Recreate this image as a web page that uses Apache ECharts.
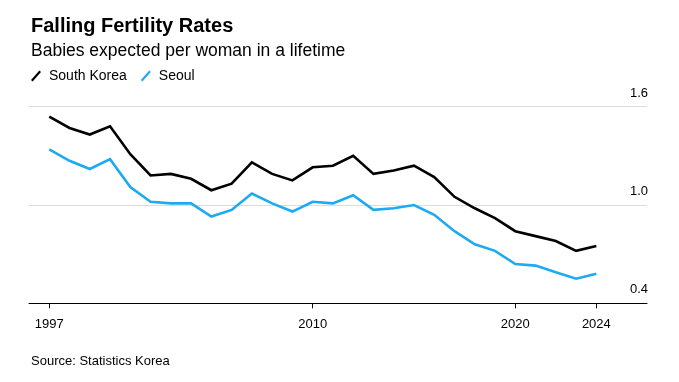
<!DOCTYPE html>
<html>
<head>
<meta charset="utf-8">
<style>
  html, body { margin: 0; padding: 0; background: #fff; }
  #chart { width: 679px; height: 382px; }
</style>
<script src="https://cdn.jsdelivr.net/npm/echarts@6/dist/echarts.min.js"></script>
</head>
<body>
<div id="chart"></div>
<script>
const years = [1997,1998,1999,2000,2001,2002,2003,2004,2005,2006,2007,2008,2009,2010,2011,2012,2013,2014,2015,2016,2017,2018,2019,2020,2021,2022,2023,2024];
const southKorea = [1.54,1.47,1.43,1.48,1.31,1.18,1.19,1.16,1.09,1.13,1.26,1.19,1.15,1.23,1.24,1.30,1.19,1.21,1.24,1.17,1.05,0.98,0.92,0.84,0.81,0.78,0.72,0.75];
const seoul = [1.34,1.27,1.22,1.28,1.11,1.02,1.01,1.01,0.93,0.97,1.07,1.01,0.96,1.02,1.01,1.06,0.97,0.98,1.00,0.94,0.84,0.76,0.72,0.64,0.63,0.59,0.55,0.58];
const xTickLabels = [1997, 2010, 2020, 2024];
const yTickLabels = [0.4, 1.0, 1.6];

const FONT = 'Liberation Sans, Arial, sans-serif';
const chart = echarts.init(document.getElementById('chart'), null, { renderer: 'canvas' });
const pair = arr => years.map((y, i) => [y, arr[i]]);
const slash = 'path://M0,9.4 L8.4,0 L10,1.6 L1.6,11 Z';

chart.setOption({
  animation: false,
  backgroundColor: '#fff',
  title: [
    { text: 'Falling Fertility Rates', left: 31, top: 16, padding: 0,
      textStyle: { fontFamily: FONT, fontSize: 20, fontWeight: 'bold', color: '#000' } },
    { text: 'Babies expected per woman in a lifetime', left: 31, top: 42, padding: 0,
      textStyle: { fontFamily: FONT, fontSize: 17.5, fontWeight: 'normal', color: '#000' } },
    { text: 'Source: Statistics Korea', left: 31, top: 355, padding: 0,
      textStyle: { fontFamily: FONT, fontSize: 13, fontWeight: 'normal', color: '#000' } }
  ],
  legend: {
    left: 31, top: 69, padding: 0,
    itemWidth: 10, itemHeight: 11, itemGap: 14,
    icon: slash,
    data: ['South Korea', 'Seoul'],
    textStyle: { fontFamily: FONT, fontSize: 14, color: '#000', padding: [0, 0, 0, 3] }
  },
  grid: { left: 29, right: 32, top: 106.7, bottom: 78.7, containLabel: false },
  xAxis: {
    type: 'value', min: 1996, max: 2026.5,
    axisLine: { show: true, lineStyle: { color: '#000', width: 1 } },
    axisTick: { show: true, customValues: xTickLabels, length: 5, lineStyle: { color: '#000' } },
    axisLabel: { customValues: xTickLabels, margin: 15, fontFamily: FONT, fontSize: 13, color: '#000',
      formatter: v => String(v) },
    splitLine: { show: false }
  },
  yAxis: {
    type: 'value', position: 'right', min: 0.4, max: 1.6, interval: 0.6,
    axisLine: { show: false }, axisTick: { show: false },
    axisLabel: { inside: true, margin: -1, align: 'right', verticalAlign: 'bottom',
      padding: [0, 0, 7, 0], fontFamily: FONT, fontSize: 13, color: '#000',
      formatter: v => v.toFixed(1) },
    splitLine: { show: true, lineStyle: { color: '#dcdcdc', width: 1 } }
  },
  series: [
    { name: 'South Korea', type: 'line', data: pair(southKorea), symbol: 'none',
      itemStyle: { color: '#000' }, lineStyle: { color: '#000', width: 2.6, join: 'miter' } },
    { name: 'Seoul', type: 'line', data: pair(seoul), symbol: 'none',
      itemStyle: { color: '#1eaaf1' }, lineStyle: { color: '#1eaaf1', width: 2.6, join: 'miter' } }
  ]
});
</script>
</body>
</html>
